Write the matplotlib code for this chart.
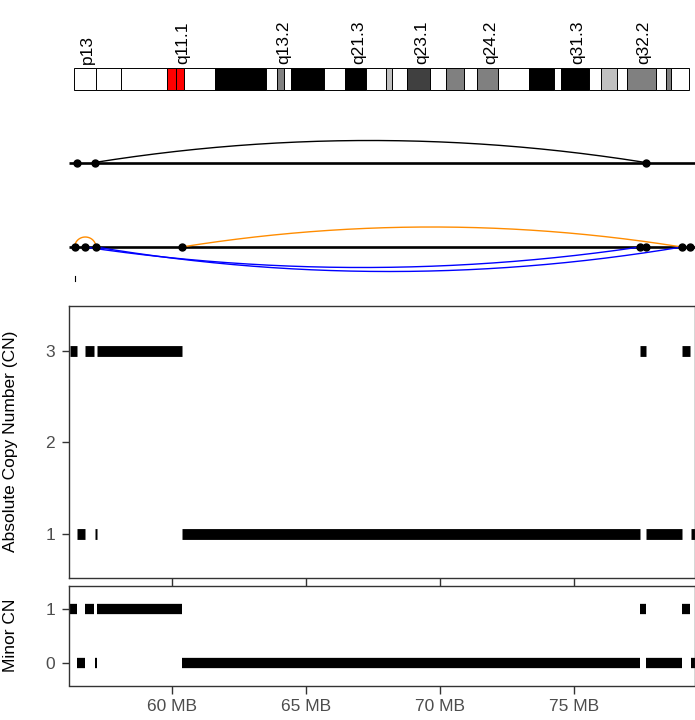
import matplotlib.pyplot as plt
import numpy as np

plt.rcParams['font.family'] = ['Liberation Sans', 'DejaVu Sans']

# chromosome 14 ideogram, band ends in MB
band_names = ['p13', 'p12', 'p11.2', 'p11.1', 'q11.1', 'q11.2', 'q12', 'q13.1',
              'q13.2', 'q13.3', 'q21.1', 'q21.2', 'q21.3', 'q22.1', 'q22.2', 'q22.3',
              'q23.1', 'q23.2', 'q23.3', 'q24.1', 'q24.2', 'q24.3', 'q31.1', 'q31.2',
              'q31.3', 'q32.11', 'q32.12', 'q32.13', 'q32.2', 'q32.31', 'q32.32', 'q32.33']
band_ends = [3.73, 8.15, 16.23, 17.70, 19.20, 24.61, 33.40, 35.43, 36.60, 37.82,
             43.63, 47.29, 50.91, 54.35, 55.50, 58.12, 62.13, 64.92, 68.01, 70.33,
             73.89, 79.41, 83.77, 84.94, 89.83, 91.92, 94.76, 96.40, 101.47, 103.26,
             104.08, 107.33]
band_stains = ['gneg', 'gneg', 'gneg', 'acen', 'acen', 'gneg', 'gpos100', 'gneg',
               'gpos50', 'gneg', 'gpos100', 'gneg', 'gpos100', 'gneg', 'gpos25', 'gneg',
               'gpos75', 'gneg', 'gpos50', 'gneg', 'gpos50', 'gneg', 'gpos100', 'gneg',
               'gpos100', 'gneg', 'gpos25', 'gneg', 'gpos50', 'gneg', 'gpos50', 'gneg']
stain_colors = {'gneg': 'white', 'gpos25': '#C0C0C0', 'gpos50': '#808080',
                'gpos75': '#404040', 'gpos100': 'black', 'acen': '#FF0000'}

# copy number segments (MB)
seg_start = [56.19, 56.467, 56.765, 57.101, 57.138, 57.19, 60.362, 77.474, 77.676, 79.03, 79.355]
seg_end = [56.467, 56.754, 57.101, 57.104, 57.19, 60.362, 77.463, 77.676, 79.019, 79.34, 79.7]
seg_cn = [3, 1, 3, 2, 1, 3, 1, 3, 1, 3, 1]
seg_minor = [1, 0, 1, 1, 0, 1, 0, 1, 0, 1, 0]

# structural variant tracks
track1_points = [56.44, 57.11, 77.67]
track1_arc_start = [57.11]
track1_arc_end = [77.67]
track1_arc_height = [22]
track1_arc_color = ['black']

track2_points = [56.37, 56.74, 57.16, 60.36, 77.46, 77.67, 79.02, 79.33]
track2_arc_start = [56.37, 60.36, 56.74, 57.16]
track2_arc_end = [57.16, 79.02, 77.46, 79.02]
track2_arc_height = [10, 20, -20.5, -24.5]
track2_arc_color = ['darkorange', 'darkorange', 'blue', 'blue']

xlim = (56.157, 79.496)
xticks = [60, 65, 70, 75]
xticklabels = ['60 MB', '65 MB', '70 MB', '75 MB']

W, H = 695, 720
fig = plt.figure(figsize=(W / 100, H / 100), dpi=100)


def box(x0, y0, x1, y1):
    # pixel box (top-left origin) -> figure fraction
    return [x0 / W, 1 - y1 / H, (x1 - x0) / W, (y1 - y0) / H]


# ideogram
ax_id = fig.add_axes(box(74.3, 68, 689.3, 90))
starts = [0] + band_ends[:-1]
widths = np.array(band_ends) - np.array(starts)
ax_id.bar(starts, 1, width=widths, align='edge',
          color=[stain_colors[s] for s in band_stains], edgecolor='black',
          linewidth=0.7, clip_on=False)
for i in range(0, len(band_names), 4):
    ax_id.annotate(band_names[i], xy=((starts[i] + band_ends[i]) / 2, 1), xytext=(2, 3),
                   textcoords='offset points', rotation=90, ha='center', va='bottom',
                   fontsize=12.5, annotation_clip=False)
ax_id.set_xlim(0, band_ends[-1])
ax_id.set_ylim(0, 1)
ax_id.axis('off')


def draw_track(ax, points, a_start, a_end, a_height, a_color):
    ax.plot(xlim, [0, 0], color='black', lw=1.9, solid_capstyle='butt', zorder=2)
    for s, e, h, c in zip(a_start, a_end, a_height, a_color):
        u = np.linspace(0, 1, 300)
        p = 0.5 if (e - s) < 2 else 1.0
        y = h * (1 - (2 * u - 1) ** 2) ** p
        ax.plot(s + u * (e - s), y, color=c, lw=1.0, zorder=3)
    ax.plot(points, np.zeros(len(points)), 'o', color='black', ms=5, zorder=4)
    ax.set_xlim(xlim)
    ax.set_ylim(-40, 40)
    ax.axis('off')


ax_t1 = fig.add_axes(box(69, 122.5, 694.5, 202.5))
draw_track(ax_t1, track1_points, track1_arc_start, track1_arc_end,
           track1_arc_height, track1_arc_color)
ax_t2 = fig.add_axes(box(69, 207, 694.5, 287))
draw_track(ax_t2, track2_points, track2_arc_start, track2_arc_end,
           track2_arc_height, track2_arc_color)
ax_t2.plot([56.38, 56.38], [-29, -34], color='black', lw=0.8)


def style(ax):
    for sp in ax.spines.values():
        sp.set_color('#333333')
        sp.set_linewidth(1.0)
    ax.tick_params(length=5.4, width=1.0, color='#333333', labelcolor='#4D4D4D',
                   labelsize=12.5, pad=4.5)
    ax.set_xlim(xlim)
    ax.set_xticks(xticks)


ax_cn = fig.add_axes(box(69, 306, 694.5, 577.5))
lc = ax_cn.hlines(seg_cn, seg_start, seg_end, color='black', lw=7.8)
lc.set_capstyle('butt')
style(ax_cn)
ax_cn.set_ylim(0.52, 3.49)
ax_cn.set_yticks([1, 2, 3])
ax_cn.set_xticklabels([])
ax_cn.set_ylabel('Absolute Copy Number (CN)', fontsize=12.5)
ax_cn.yaxis.set_label_coords(-0.082, 0.5)

ax_mn = fig.add_axes(box(69, 586, 694.5, 685.5))
lc = ax_mn.hlines(seg_minor, seg_start, seg_end, color='black', lw=7.4)
lc.set_capstyle('butt')
style(ax_mn)
ax_mn.set_ylim(-0.41, 1.42)
ax_mn.set_yticks([0, 1])
ax_mn.set_xticklabels(xticklabels)
ax_mn.set_ylabel('Minor CN', fontsize=12.5)
ax_mn.yaxis.set_label_coords(-0.082, 0.5)

fig.savefig('out.png', dpi=100)
